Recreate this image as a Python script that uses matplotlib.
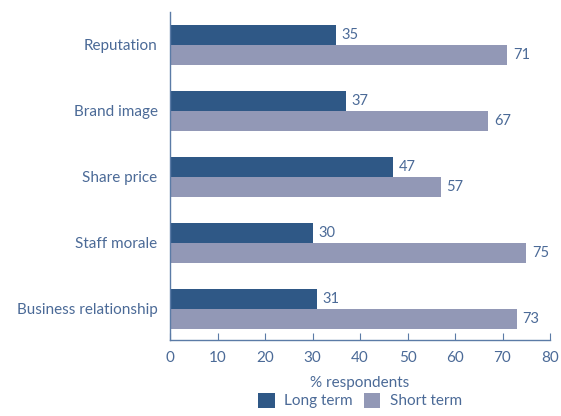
import numpy as np
import matplotlib as mpl
import matplotlib.pyplot as plt

mpl.rcParams['font.family'] = ['Lato', 'DejaVu Sans']

categories = ['Reputation', 'Brand image', 'Share price', 'Staff morale', 'Business relationship']
long_term = [35, 37, 47, 30, 31]
short_term = [71, 67, 57, 75, 73]
xticks = [0, 10, 20, 30, 40, 50, 60, 70, 80]

dark = '#2F5886'
light = '#9298B6'
txt = '#4B6A97'
axc = '#5B7BA6'


def main():
    fig = plt.figure(figsize=(5.61, 4.16), dpi=100)
    ax = fig.add_axes([170 / 561, 1 - 340 / 416, 380 / 561, 328 / 416])
    y = np.arange(len(categories))
    h = 0.30
    b1 = ax.barh(y - h / 2, long_term, height=h, color=dark, label='Long term')
    b2 = ax.barh(y + h / 2, short_term, height=h, color=light, label='Short term')
    for bars in (b1, b2):
        for r in bars:
            ax.annotate(str(int(r.get_width())), (r.get_width(), r.get_y() + r.get_height() / 2),
                        xytext=(4, 0), textcoords='offset points', va='center', ha='left',
                        color=txt, fontsize=10.5)
    ax.set_xlim(0, 80)
    ax.set_ylim(4.47, -0.5)
    ax.set_yticks(y)
    ax.set_yticklabels(categories)
    ax.set_xticks(xticks)
    ax.tick_params(axis='y', length=0, pad=9, labelsize=11, labelcolor=txt)
    ax.tick_params(axis='x', direction='in', length=5, color=axc, pad=8, labelsize=11, labelcolor=txt)
    for s in ('top', 'right'):
        ax.spines[s].set_visible(False)
    for s in ('left', 'bottom'):
        ax.spines[s].set_color(axc)
        ax.spines[s].set_linewidth(1.0)
    ax.set_xlabel('% respondents', color=txt, fontsize=11, labelpad=8)
    fig.legend(handles=[b1, b2], loc='lower center', bbox_to_anchor=(360 / 561, -0.015),
               ncol=2, frameon=False, fontsize=11, labelcolor=txt,
               handlelength=1.1, handleheight=1.1, handletextpad=0.6, columnspacing=0.7)
    fig.savefig('out.png', dpi=100)


if __name__ == '__main__':
    main()
